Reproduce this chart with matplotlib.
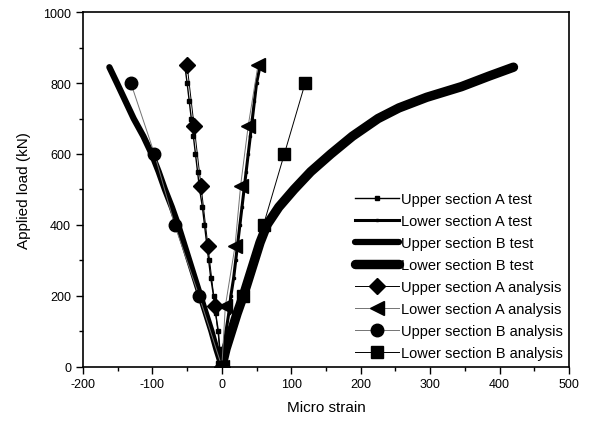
import matplotlib
matplotlib.use("Agg")
import matplotlib.pyplot as plt
from matplotlib.ticker import MultipleLocator

plt.rcParams["font.family"] = ["Liberation Sans", "DejaVu Sans"]
plt.rcParams["axes.unicode_minus"] = False

# ── test data ─────────────────────────────────────────────────────────────
upper_a_test_x = [0, -3, -5, -9, -12, -16, -19, -22, -25, -28, -32, -35, -38, -41, -44, -47, -50, -53]
upper_a_test_y = [0, 50, 100, 150, 200, 250, 300, 350, 400, 450, 500, 550, 600, 650, 700, 750, 800, 845]

lower_a_test_x = [0, 3, 6, 10, 13, 17, 20, 23, 26, 29, 32, 35, 38, 41, 44, 47, 50, 55]
lower_a_test_y = [0, 50, 100, 150, 200, 250, 300, 350, 400, 450, 500, 550, 600, 650, 700, 750, 800, 848]

upper_b_test_x = [0, -8, -15, -23, -31, -39, -47, -55, -63, -72, -82, -91, -101, -113, -127, -139, -151, -162]
upper_b_test_y = [0, 50, 100, 150, 200, 250, 300, 350, 400, 450, 500, 550, 600, 650, 700, 750, 800, 845]

lower_b_test_x = [0, 6, 14, 22, 31, 39, 47, 55, 65, 82, 104, 128, 157, 188, 225, 255, 295, 345, 385, 420]
lower_b_test_y = [0, 50, 100, 150, 200, 250, 300, 350, 400, 450, 500, 550, 600, 650, 700, 730, 760, 790, 820, 845]

# ── analysis data ─────────────────────────────────────────────────────────
upper_a_an_x = [0, -10, -20, -30, -40, -50]
upper_a_an_y = [0, 170, 340, 510, 680, 850]

lower_a_an_x = [0, 5, 19, 27, 38, 52]
lower_a_an_y = [0, 170, 340, 510, 680, 850]

upper_b_an_x = [0, -33, -68, -97, -131]
upper_b_an_y = [0, 200, 400, 600, 800]

lower_b_an_x = [0, 30, 60, 90, 120]
lower_b_an_y = [0, 200, 400, 600, 800]

fig = plt.figure(figsize=(5.91, 4.27), dpi=100)
ax = fig.add_axes([0.1404, 0.1393, 0.8224, 0.8296])

ax.plot(upper_a_test_x, upper_a_test_y, color="black", lw=1.0, marker="s", ms=2.5,
        label="Upper section A test")
ax.plot(lower_a_test_x, lower_a_test_y, color="black", lw=2.2, marker="s", ms=1.5,
        label="Lower section A test")
ax.plot(upper_b_test_x, upper_b_test_y, color="black", lw=4.5,
        solid_capstyle="round", solid_joinstyle="round", label="Upper section B test")
ax.plot(lower_b_test_x, lower_b_test_y, color="black", lw=6.8,
        solid_capstyle="round", solid_joinstyle="round", label="Lower section B test")

ax.plot(upper_a_an_x, upper_a_an_y, color="black", lw=0.7, marker="D", ms=8,
        label="Upper section A analysis")
ax.plot(lower_a_an_x, lower_a_an_y, color="0.45", lw=0.7, marker="<", ms=10,
        mfc="black", mec="black", label="Lower section A analysis")
ax.plot(upper_b_an_x, upper_b_an_y, color="0.45", lw=0.7, marker="o", ms=9,
        mfc="black", mec="black", label="Upper section B analysis")
ax.plot(lower_b_an_x, lower_b_an_y, color="black", lw=0.7, marker="s", ms=8,
        label="Lower section B analysis")

ax.set_xlim(-200, 500)
ax.set_ylim(0, 1000)
ax.xaxis.set_major_locator(MultipleLocator(100))
ax.xaxis.set_minor_locator(MultipleLocator(50))
ax.yaxis.set_major_locator(MultipleLocator(200))
ax.yaxis.set_minor_locator(MultipleLocator(100))
ax.tick_params(which="both", direction="out", labelsize=9, width=1.0, color="black")
ax.tick_params(which="major", length=5)
ax.tick_params(which="minor", length=3)
for spine in ax.spines.values():
    spine.set_linewidth(1.2)

ax.set_xlabel("Micro strain", fontsize=11, labelpad=7)
ax.set_ylabel("Applied load (kN)", fontsize=11, labelpad=9)

ax.legend(loc="lower right", bbox_to_anchor=(1.0, 0.0), frameon=False, fontsize=10.5,
          numpoints=1, handlelength=3.0, handletextpad=0.1, labelspacing=0.55,
          borderaxespad=0.05)

fig.savefig("out.png", dpi=100)
